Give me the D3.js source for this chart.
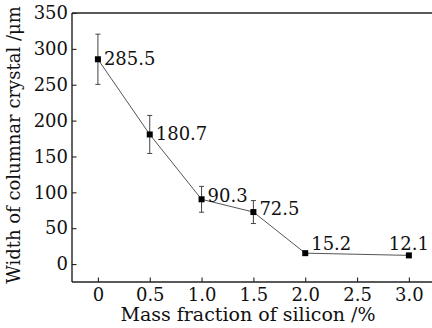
<!DOCTYPE html>
<html>
<head>
<meta charset="utf-8">
<script src="https://cdn.jsdelivr.net/npm/d3@7"></script>
<style>
  body { margin: 0; background: #fff; }
  svg text { font-family: "DejaVu Serif", serif; fill: #111; }
</style>
</head>
<body>
<svg id="chart" width="432" height="328"></svg>
<script>
// silicon mass fraction (%) vs columnar crystal width (um)
var silicon = [0, 0.5, 1.0, 1.5, 2.0, 3.0];
var width = [285.5, 180.7, 90.3, 72.5, 15.2, 12.1];
var errors = [35, 26.5, 18, 16, 0, 0];
var xTicks = [0, 0.5, 1.0, 1.5, 2.0, 2.5, 3.0];
var xTickLabels = ["0", "0.5", "1.0", "1.5", "2.0", "2.5", "3.0"];
var yTicks = [0, 50, 100, 150, 200, 250, 300, 350];

// label placement: "right" beside the marker, "above" above it
var labelPlace = ["right", "right", "right", "right", "upright", "above"];

var FONT = "18px";

var svg = d3.select("#chart");

var x = d3.scaleLinear().domain([-0.25, 3.25]).range([72, 434.8]);
var y = d3.scaleLinear().domain([-25, 350]).range([282, 13]);

// frame: top line and left / bottom axes
svg.append("line")
  .attr("x1", 72).attr("x2", 432)
  .attr("y1", 13).attr("y2", 13)
  .attr("stroke", "#222").attr("stroke-width", 1.5);

var xAxis = svg.append("g")
  .attr("transform", "translate(0,282)")
  .call(d3.axisBottom(x).tickValues(xTicks).tickSizeInner(-4.5).tickSizeOuter(0)
    .tickFormat(function(d, i) { return xTickLabels[i]; }));
xAxis.attr("font-family", null);
xAxis.select(".domain").attr("stroke", "#222").attr("stroke-width", 1.4)
  .attr("d", "M72,0H432");
xAxis.selectAll(".tick line").attr("stroke", "#222").attr("stroke-width", 1.1);
xAxis.selectAll(".tick text")
  .attr("y", 19).attr("dy", null)
  .style("font-size", FONT)
  .attr("fill", "#111");

var yAxis = svg.append("g")
  .attr("transform", "translate(72,0)")
  .call(d3.axisLeft(y).tickValues(yTicks).tickSizeInner(-4.5).tickSizeOuter(0));
yAxis.attr("font-family", null);
yAxis.select(".domain").attr("stroke", "#222").attr("stroke-width", 1.4)
  .attr("d", "M0,13V282");
yAxis.selectAll(".tick line").attr("stroke", "#222").attr("stroke-width", 1.1);
yAxis.selectAll(".tick text")
  .attr("x", -4)
  .style("font-size", FONT)
  .attr("fill", "#111");

// connecting line
var pts = silicon.map(function(s, i) { return [s, width[i]]; });
svg.append("path")
  .datum(pts)
  .attr("fill", "none")
  .attr("stroke", "#555")
  .attr("stroke-width", 1)
  .attr("d", d3.line()
    .x(function(d) { return x(d[0]); })
    .y(function(d) { return y(d[1]); }));

// error bars
var eb = svg.append("g").attr("stroke", "#444").attr("stroke-width", 1);
silicon.forEach(function(s, i) {
  if (!errors[i]) return;
  var cx = x(s), top = y(width[i] + errors[i]), bot = y(width[i] - errors[i]);
  eb.append("line").attr("x1", cx).attr("x2", cx).attr("y1", top).attr("y2", bot);
  eb.append("line").attr("x1", cx - 2.5).attr("x2", cx + 2.5).attr("y1", top).attr("y2", top);
  eb.append("line").attr("x1", cx - 2.5).attr("x2", cx + 2.5).attr("y1", bot).attr("y2", bot);
});

// square markers
svg.append("g").selectAll("rect")
  .data(pts)
  .enter().append("rect")
  .attr("x", function(d) { return x(d[0]) - 3; })
  .attr("y", function(d) { return y(d[1]) - 3; })
  .attr("width", 6).attr("height", 6)
  .attr("fill", "#000");

// value labels
svg.append("g").selectAll("text")
  .data(pts)
  .enter().append("text")
  .style("font-size", FONT)
  .attr("text-anchor", function(d, i) { return labelPlace[i] == "above" ? "middle" : "start"; })
  .attr("x", function(d, i) {
    if (labelPlace[i] == "above") return x(d[0]);
    return x(d[0]) + 6;
  })
  .attr("y", function(d, i) {
    if (labelPlace[i] == "above") return y(d[1]) - 5;
    if (labelPlace[i] == "upright") return y(d[1]) - 3;
    if (i == 2 || i == 3) return y(d[1]) + 3;
    return y(d[1]) + 6;
  })
  .text(function(d) { return d3.format(".1f")(d[1]); });

// axis titles
svg.append("text")
  .attr("x", 248).attr("y", 321)
  .attr("text-anchor", "middle")
  .style("font-size", "19px")
  .text("Mass fraction of silicon /%");

svg.append("text")
  .attr("transform", "translate(20,145) rotate(-90)")
  .attr("text-anchor", "middle")
  .style("font-size", FONT)
  .text("Width of columnar crystal /\u03bcm");
</script>
</body>
</html>
